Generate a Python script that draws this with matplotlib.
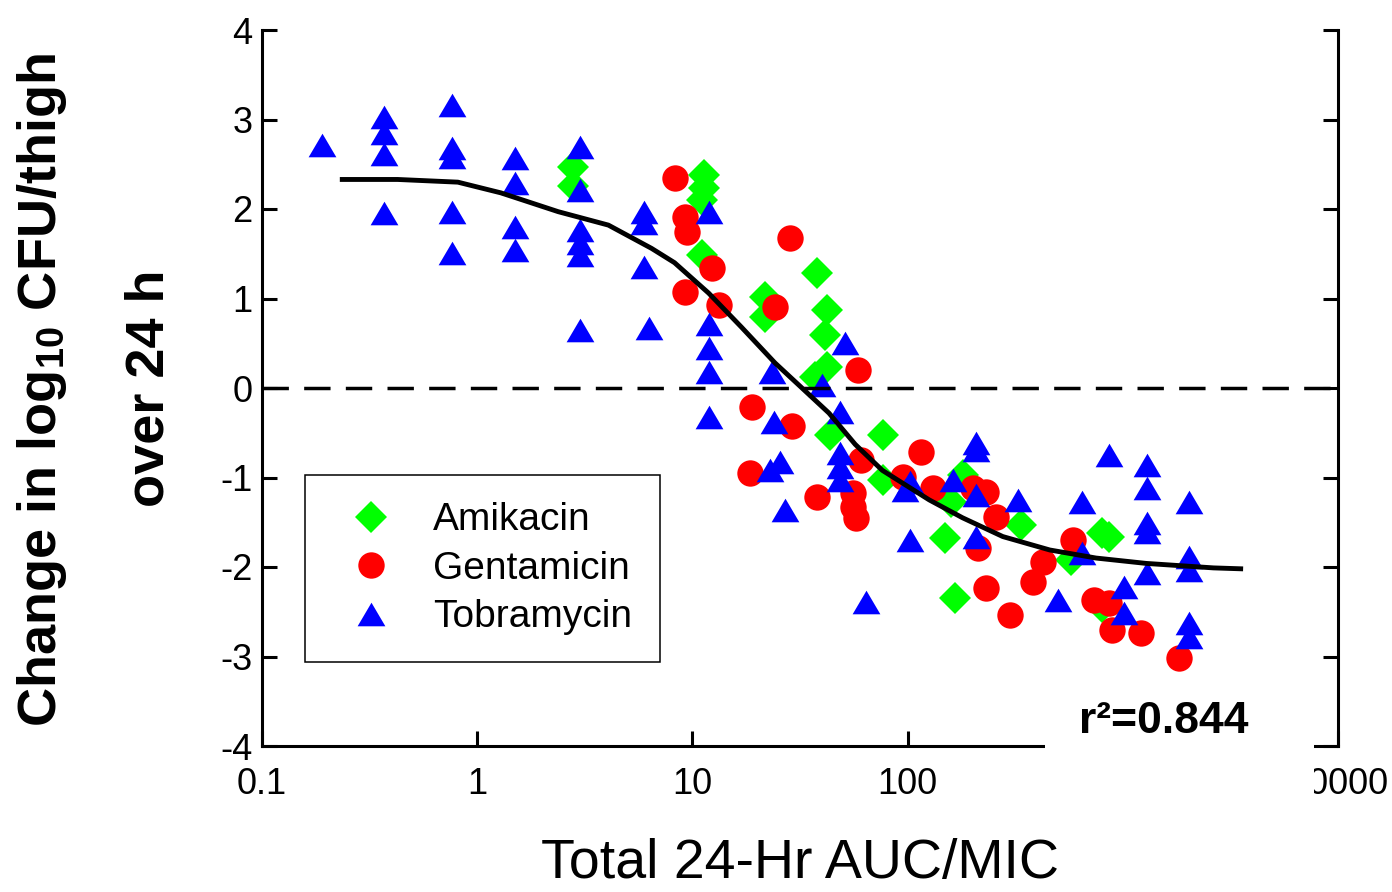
import numpy as np
import matplotlib
matplotlib.use('Agg')
import matplotlib.pyplot as plt
from matplotlib.patches import Rectangle
from matplotlib.ticker import NullLocator

plt.rcParams['font.family'] = ['Liberation Sans', 'DejaVu Sans']
plt.rcParams['lines.scale_dashes'] = False
plt.rcParams['axes.unicode_minus'] = False

# Amikacin (green diamonds)
ami_x = [2.8, 2.8, 11.3, 11.3, 11.1, 11.1, 38.1, 21.8, 21.8, 42.4, 41.5, 37.3, 42.4,
         43.4, 76.6, 76.6, 181, 159, 337, 149, 803, 867, 577, 166, 803]
ami_y = [2.47, 2.26, 2.38, 2.23, 2.10, 1.49, 1.28, 1.02, 0.79, 0.87, 0.59, 0.12, 0.23,
         -0.52, -0.52, -1.03, -0.97, -1.27, -1.53, -1.68, -1.62, -1.66, -1.92, -2.35, -2.45]

# Gentamicin (red circles)
gen_x = [8.3, 9.2, 9.4, 12.3, 9.2, 13.3, 28.5, 24.3, 58.6, 19.0, 29.1, 18.6, 61,
         38.1, 55.5, 55.5, 57.3, 115, 95, 131, 201, 232, 258, 590, 428, 384, 232,
         300, 731, 867, 887, 1211, 1820, 212]
gen_y = [2.35, 1.91, 1.74, 1.34, 1.07, 0.93, 1.68, 0.91, 0.20, -0.21, -0.43, -0.95, -0.80,
         -1.22, -1.17, -1.33, -1.45, -0.71, -0.99, -1.12, -1.12, -1.16, -1.44, -1.70, -1.94, -2.17, -2.23,
         -2.54, -2.37, -2.40, -2.70, -2.74, -3.02, -1.79]

# Tobramycin (blue triangles)
tob_x = [0.19,
         0.37, 0.37, 0.37, 0.37,
         0.76, 0.76, 0.76, 0.76, 0.76,
         1.5, 1.5, 1.5, 1.5,
         3.0, 3.0, 3.0, 3.0, 3.0, 3.0,
         5.95, 5.95, 5.95, 6.3,
         11.9, 11.9, 11.9, 11.9, 11.9,
         24.0, 25.4, 23.0, 26.8, 23.5, 51.0, 40.2,
         48.3, 48.3, 48.3, 48.3, 63.8,
         208, 208, 867, 1291, 1291, 97, 103, 163, 208, 327, 643, 2026,
         1291, 1291, 103, 208, 643, 2026, 2026, 1291, 502, 1009, 1009, 2026, 2026]
tob_y = [2.72,
         3.03, 2.85, 2.62, 1.96,
         3.16, 2.68, 2.58, 1.97, 1.51,
         2.57, 2.29, 1.80, 1.54,
         2.69, 2.21, 1.77, 1.62, 1.49, 0.65,
         1.97, 1.84, 1.35, 0.67,
         1.97, 0.72, 0.45, 0.18, -0.32,
         -0.38, -0.83, -0.92, -1.36, 0.18, 0.50, 0.03,
         -0.27, -0.73, -0.88, -1.03, -2.39,
         -0.61, -0.69, -0.75, -0.86, -1.12, -1.14, -1.05, -1.03, -1.20, -1.25, -1.27, -1.27,
         -1.51, -1.61, -1.70, -1.66, -1.84, -1.89, -2.03, -2.07, -2.37, -2.22, -2.51, -2.63, -2.78]

# fitted curve
fit_x = [0.236, 0.427, 0.813, 1.29, 2.38, 4.07, 6.46, 8.26, 11.9, 16.9, 24.2, 32.3,
         43.1, 57.1, 76.3, 126, 180, 277, 458, 751, 1285, 2640, 3530]
fit_y = [2.33, 2.33, 2.30, 2.18, 1.97, 1.82, 1.56, 1.40, 1.06, 0.68, 0.28, 0.0,
         -0.28, -0.63, -0.92, -1.25, -1.45, -1.66, -1.81, -1.90, -1.96, -2.01, -2.02]

xticks = [0.1, 1, 10, 100, 1000, 10000]
xtick_labels = ['0.1', '1', '10', '100', '1000', '10000']
yticks = [-4, -3, -2, -1, 0, 1, 2, 3, 4]

W, H = 1392, 892
fig = plt.figure(figsize=(W / 100, H / 100), dpi=100)
ax = fig.add_axes([262 / W, 1 - 746 / H, 1076 / W, 716 / H])

tri = [(0, 0.85), (-1, -0.85), (1, -0.85)]
ax.plot(ami_x, ami_y, linestyle='none', marker='D', ms=16, mew=0, color='#00ff00',
        label='Amikacin', zorder=2)
ax.plot(gen_x, gen_y, linestyle='none', marker='o', ms=19, mew=0, color='#ff0000',
        label='Gentamicin', zorder=3)
ax.plot(tob_x, tob_y, linestyle='none', marker=tri, ms=20, mew=0, color='#0000ff',
        label='Tobramycin', zorder=3.5)
ax.plot(fit_x, fit_y, color='black', lw=3.5, zorder=4)
ax.axhline(0, color='black', lw=2.5, dashes=(19, 11), zorder=5)

ax.set_xscale('log')
ax.set_xlim(0.1, 10000)
ax.set_ylim(-4, 4)
ax.set_xticks(xticks)
ax.set_xticklabels(xtick_labels)
ax.xaxis.set_minor_locator(NullLocator())
ax.set_yticks(yticks)
ax.tick_params(axis='both', direction='in', length=11, width=2.2, labelsize=26)
ax.tick_params(axis='y', right=True, pad=7)
ax.tick_params(axis='x', pad=15)
ax.spines['top'].set_visible(False)
for s in ['left', 'right', 'bottom']:
    ax.spines[s].set_linewidth(2.2)

leg = ax.legend(loc='upper left', bbox_to_anchor=(305 / W, 1 - 475 / H),
                bbox_transform=fig.transFigure, borderaxespad=0, fancybox=False,
                framealpha=1, edgecolor='black', borderpad=0.7, handlelength=2.0,
                handletextpad=0.6, labelspacing=0.32,
                prop={'family': 'Liberation Sans', 'size': 28})
leg.get_frame().set_linewidth(1.1)

# labels
fig.text(42 / W, 1 - 390 / H, r'Change in log$_{\mathregular{10}}$ CFU/thigh',
         rotation=90, ha='center', va='center', fontsize=39, fontweight='bold')
fig.text(150 / W, 1 - 388 / H, 'over 24 h', rotation=90, ha='center', va='center',
         fontsize=39, fontweight='bold')
fig.text(800 / W, 1 - 864 / H, 'Total 24-Hr AUC/MIC', ha='center', va='center',
         fontsize=40)

# white patch over part of the bottom axis, with r2 on it
fig.add_artist(Rectangle((1045 / W, 1 - 815 / H), 269 / W, 125 / H,
                         transform=fig.transFigure, facecolor='white',
                         edgecolor='none', zorder=10))
fig.text(1248 / W, 1 - 733 / H, 'r²=0.844', ha='right', va='baseline',
         fontsize=32, fontweight='bold', zorder=11)

fig.savefig('out.png', dpi=100)
